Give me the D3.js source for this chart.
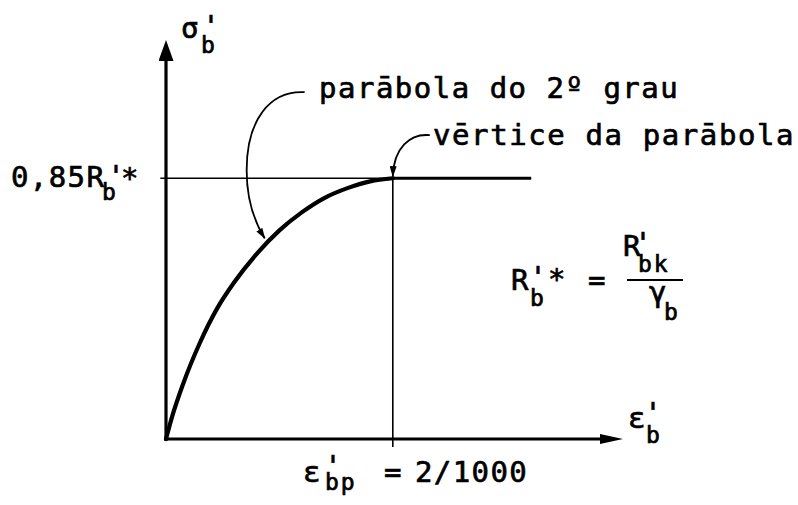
<!DOCTYPE html>
<html>
<head>
<meta charset="utf-8">
<script src="https://cdn.jsdelivr.net/npm/d3@7"></script>
<style>
  html, body { margin: 0; padding: 0; background: #fff; }
  svg { display: block; }
  text { font-family: "DejaVu Sans Mono", monospace; fill: #000; stroke: #000; stroke-width: 0.7px; }
</style>
</head>
<body>
<svg id="chart" width="798" height="505"></svg>
<script>
// Ascending branch of the design stress–strain diagram (strain in ‰,
// stress as a fraction of the peak 0,85R'b*)
const strain    = [0, 0.05, 0.15, 0.30, 0.45, 0.60, 0.80, 1.00, 1.20, 1.40, 1.60, 1.80, 2.00];
const stressRel = [0, 0.08, 0.21, 0.37, 0.50, 0.60, 0.71, 0.80, 0.87, 0.925, 0.962, 0.988, 1.00];

// Constant-stress plateau after the vertex
const plateauStrain = [2.0, 3.22];
const plateauStress = [1.0, 1.0];

// Vertex of the parabola
const peakStrain = 2.0;
const peakStress = 1.0;

// Axis extents (arrow tips)
const strainMax = 4.03;
const stressMax = 1.53;

// Annotation texts
const noteParabola = "parābola do 2º grau";
const noteVertex   = "vērtice da parābola";
const peakText     = "0,85R";
const strainText   = "2/1000";

const svg = d3.select("#chart");

const x = d3.scaleLinear().domain([0, strainMax]).range([166, 623]);
const y = d3.scaleLinear().domain([0, stressMax]).range([439, 40]);

// Arrowhead markers
const defs = svg.append("defs");
function marker(id, len, half, w) {
  defs.append("marker")
    .attr("id", id)
    .attr("markerUnits", "userSpaceOnUse")
    .attr("viewBox", `0 ${-half} ${len} ${2 * half}`)
    .attr("markerWidth", len)
    .attr("markerHeight", 2 * half)
    .attr("refX", len - w)
    .attr("refY", 0)
    .attr("orient", "auto")
    .append("path")
    .attr("d", `M0,${-half}L${len},0L0,${half}Z`)
    .attr("fill", "#000");
}
marker("arrowY", 21, 7.5, 10);
marker("arrowX", 23, 5, 10);
marker("arrowNote", 11, 3.5, 1);

const line = d3.line().x(d => x(d[0])).y(d => y(d[1]));

// Thin reference line at the peak stress
svg.append("path")
  .attr("d", line([[-0.05, peakStress], [plateauStrain[1], peakStress]]))
  .attr("stroke", "#000").attr("stroke-width", 1.6).attr("fill", "none");

// Vertical line at the strain of the vertex
svg.append("path")
  .attr("d", `M${x(peakStrain)},${y(peakStress)}V${y(0) + 8}`)
  .attr("stroke", "#000").attr("stroke-width", 1.6).attr("fill", "none");

// Axes
svg.append("path")
  .attr("d", `M${x(0)},${y(0) + 1.5}V${y(stressMax) + 10}`)
  .attr("stroke", "#000").attr("stroke-width", 3.2).attr("fill", "none")
  .attr("marker-end", "url(#arrowY)");
svg.append("path")
  .attr("d", `M${x(0) - 1.5},${y(0)}H${x(strainMax) - 10}`)
  .attr("stroke", "#000").attr("stroke-width", 3.2).attr("fill", "none")
  .attr("marker-end", "url(#arrowX)");

// Parabola and plateau
const curvePts = strain.map((s, i) => [s, stressRel[i]]);
svg.append("path")
  .attr("d", d3.line().x(d => x(d[0])).y(d => y(d[1])).curve(d3.curveMonotoneX)(curvePts))
  .attr("stroke", "#000").attr("stroke-width", 4.2).attr("fill", "none")
  .attr("stroke-linecap", "round");
svg.append("path")
  .attr("d", line(plateauStrain.map((s, i) => [s, plateauStress[i]])))
  .attr("stroke", "#000").attr("stroke-width", 3).attr("fill", "none");

// Leader arrows for the notes
const tip1 = [x(0.87), y(0.77)];
const tip2 = [x(peakStrain), y(peakStress) - 2];
function rel(t, pts) { return pts.map(p => `${t[0] + p[0]},${t[1] + p[1]}`); }
const l1 = rel(tip1, [[40, -146], [5, -148], [-18, -118], [-18, -68], [-18, -38], [-10, -16], [0, 0]]);
svg.append("path")
  .attr("d", `M${l1[0]}C${l1[1]} ${l1[2]} ${l1[3]}C${l1[4]} ${l1[5]} ${l1[6]}`)
  .attr("stroke", "#000").attr("stroke-width", 1.8).attr("fill", "none")
  .attr("marker-end", "url(#arrowNote)");
const l2 = rel(tip2, [[37, -41], [17, -43], [1, -28], [0, 0]]);
svg.append("path")
  .attr("d", `M${l2[0]}C${l2[1]} ${l2[2]} ${l2[3]}`)
  .attr("stroke", "#000").attr("stroke-width", 1.8).attr("fill", "none")
  .attr("marker-end", "url(#arrowNote)");

// Text helpers: a symbol is one <text> made of positioned pieces
// (base letter, prime, subscript ...)
const BASE = 29, SUB = 23;
function sym(pieces) {
  const t = svg.append("text");
  pieces.forEach(p => {
    t.append("tspan")
      .attr("x", p.x).attr("y", p.y)
      .attr("font-size", p.size || BASE)
      .attr("letter-spacing", p.ls !== undefined ? p.ls : 1.4)
      .attr("text-anchor", p.anchor || "start")
      .text(p.t);
  });
  return t;
}

// σ'b axis title
sym([
  { t: "σ", x: 181, y: 38 },
  { t: "'", x: 211, y: 36, anchor: "middle", ls: 0 },
  { t: "b", x: 201, y: 53, size: SUB }
]);

// 0,85R'b* peak label
sym([
  { t: peakText, x: 11, y: 187 },
  { t: "'", x: 116, y: 186, anchor: "middle", ls: 0 },
  { t: "b", x: 102, y: 200, size: SUB },
  { t: "*", x: 121, y: 188 }
]);

// Notes
sym([{ t: noteParabola, x: 319, y: 98, ls: 1.5 }]);
sym([{ t: noteVertex, x: 433, y: 145, ls: 1.6 }]);

// R'b* = R'bk / γb
sym([
  { t: "R", x: 511, y: 290 },
  { t: "'", x: 538, y: 287, anchor: "middle", ls: 0 },
  { t: "b", x: 530, y: 306, size: SUB },
  { t: "*", x: 548, y: 289 },
  { t: "=", x: 588, y: 290 }
]);
sym([
  { t: "R", x: 623, y: 256 },
  { t: "'", x: 643, y: 253, anchor: "middle", ls: 0 },
  { t: "bk", x: 638, y: 272, size: SUB, ls: 2 }
]);
svg.append("path")
  .attr("d", "M627,280H683")
  .attr("stroke", "#000").attr("stroke-width", 2.2);
sym([
  { t: "γ", x: 649, y: 302 },
  { t: "b", x: 664, y: 320, size: SUB }
]);

// ε'b axis title
sym([
  { t: "ε", x: 628, y: 428 },
  { t: "'", x: 653, y: 423, anchor: "middle", ls: 0 },
  { t: "b", x: 646, y: 443, size: SUB }
]);

// ε'bp = 2/1000
sym([
  { t: "ε", x: 303, y: 482 },
  { t: "'", x: 333, y: 476, anchor: "middle", ls: 0 },
  { t: "bp", x: 325, y: 490, size: SUB, ls: 2 },
  { t: "=", x: 384, y: 482 },
  { t: strainText, x: 415, y: 482 }
]);
</script>
</body>
</html>
